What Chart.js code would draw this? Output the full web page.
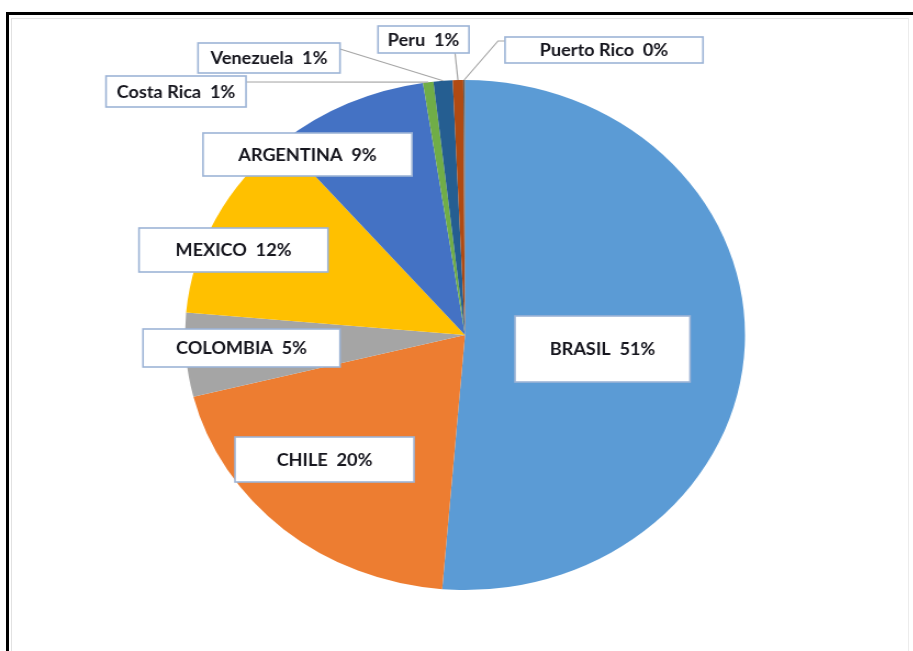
<!DOCTYPE html>
<html>
<head>
<meta charset="utf-8">
<script src="https://cdn.jsdelivr.net/npm/chart.js@4.4.0/dist/chart.umd.min.js"></script>
<style>
  html, body { margin: 0; padding: 0; background: #fff; width: 913px; height: 651px; overflow: hidden; }
  #frame { position: absolute; left: 6px; top: 12px; width: 920px; height: 660px; border-left: 3px solid #000; border-top: 3px solid #000; }
  #inner { position: absolute; left: 11px; top: 18px; width: 896px; height: 660px; border-left: 1px solid #e2e2e2; border-top: 1px solid #e2e2e2; border-right: 1px solid #ececec; }
  #wrap { position: absolute; left: 0; top: 0; width: 832px; height: 651px; transform-origin: 0 0; }
</style>
</head>
<body>
<div id="frame"></div>
<div id="inner"></div>
<div id="wrap"><canvas id="c" width="832" height="651"></canvas></div>
<script>
// ---- data ----
const countries = ['BRASIL', 'CHILE', 'COLOMBIA', 'MEXICO', 'ARGENTINA', 'Costa Rica', 'Venezuela', 'Peru', 'Puerto Rico'];
const shares = [51.3, 19.8, 5.3, 12.3, 8.9, 0.6, 1.1, 0.6, 0.1];
const sliceColors = ['#5B9BD5', '#ED7D31', '#A5A5A5', '#FFC000', '#4472C4', '#70AD47', '#255E91', '#B04A12', '#636363'];

// ---- layout (display pixel coordinates) ----
const SX = 1.098; // horizontal stretch of the original picture
document.getElementById('wrap').style.transform = 'scaleX(' + SX + ')';
const labelBoxes = [
  { box: [515, 316, 175, 66] },
  { box: [235, 437, 179, 45] },
  { box: [143, 329, 197, 38] },
  { box: [139, 228, 189, 44] },
  { box: [203, 133, 209, 43] },
  { box: [106, 76, 140, 31], leader: [[246, 82]] },
  { box: [198, 43, 142, 30], leader: [[340, 49]] },
  { box: [378, 26, 91, 27], leader: [[455, 53]] },
  { box: [505, 37, 198, 26], leader: [[505, 41], [498, 41]] }
];

const total = shares.reduce((a, b) => a + b, 0);

const labelPlugin = {
  id: 'boxLabels',
  afterDatasetsDraw(chart) {
    const ctx = chart.ctx;
    const meta = chart.getDatasetMeta(0);
    ctx.save();
    meta.data.forEach((arc, i) => {
      const L = labelBoxes[i];
      if (!L) return;
      const p = arc.getProps(['x', 'y', 'startAngle', 'endAngle', 'outerRadius'], true);
      const mid = (p.startAngle + p.endAngle) / 2;
      const ex = p.x + Math.cos(mid) * p.outerRadius;
      const ey = p.y + Math.sin(mid) * p.outerRadius;
      if (L.leader) {
        ctx.beginPath();
        ctx.strokeStyle = '#a6a6a6';
        ctx.lineWidth = 1.2;
        L.leader.forEach((pt, k) => {
          const x = pt[0] / SX, y = pt[1];
          if (k === 0) ctx.moveTo(x, y); else ctx.lineTo(x, y);
        });
        ctx.lineTo(ex, ey);
        ctx.stroke();
      }
    });
    meta.data.forEach((arc, i) => {
      const L = labelBoxes[i];
      if (!L) return;
      const [bx, by, bw, bh] = L.box;
      const x = bx / SX, w = bw / SX;
      ctx.fillStyle = '#ffffff';
      ctx.fillRect(x, by, w, bh);
      ctx.strokeStyle = '#9db4d6';
      ctx.lineWidth = 1.6;
      ctx.strokeRect(x, by, w, bh);
      const pct = Math.round(shares[i] / total * 100);
      const txt = countries[i] + '  ' + pct + '%';
      ctx.fillStyle = '#16161e';
      ctx.font = 'bold 16.5px Lato, "Open Sans", sans-serif';
      ctx.textAlign = 'center';
      ctx.textBaseline = 'middle';
      ctx.fillText(txt, x + w / 2, by + bh / 2 + 1);
    });
    ctx.restore();
  }
};

new Chart(document.getElementById('c'), {
  type: 'pie',
  data: {
    labels: countries,
    datasets: [{
      data: shares,
      backgroundColor: sliceColors,
      borderWidth: 0
    }]
  },
  options: {
    responsive: false,
    animation: false,
    devicePixelRatio: 1,
    layout: { padding: { left: 168.5, right: 153.5, top: 80, bottom: 61 } },
    plugins: { legend: { display: false }, tooltip: { enabled: false } }
  },
  plugins: [labelPlugin]
});
</script>
</body>
</html>
